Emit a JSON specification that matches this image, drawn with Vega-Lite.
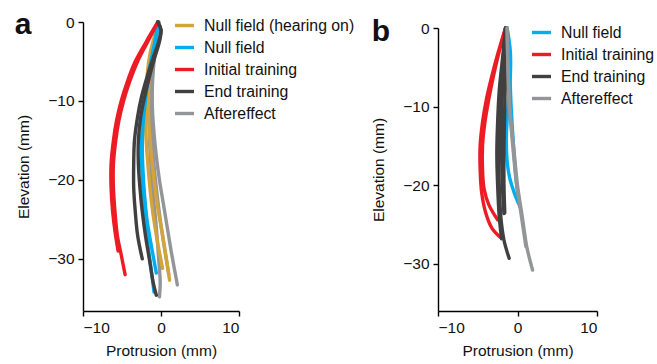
{
  "$schema": "https://vega.github.io/schema/vega-lite/v6.json",
  "padding": {"left": 14, "top": 10, "right": 5, "bottom": 2},
  "config": {
    "font": "Liberation Sans",
    "view": {"stroke": null},
    "axis": {"grid": false, "domainColor": "#000", "tickColor": "#000", "labelColor": "#111", "titleColor": "#111", "domainWidth": 1.4, "tickWidth": 1.4, "tickSize": 5, "labelFontSize": 15.5, "titleFontSize": 15.5, "titleFontWeight": "normal", "labelPadding": 4},
    "legend": {"labelFontSize": 15.8, "labelColor": "#111", "symbolType": "stroke", "symbolStrokeWidth": 3.5, "symbolSize": 361, "labelOffset": 8, "rowPadding": 2, "padding": 0, "title": null},
    "title": {"fontSize": 30, "fontWeight": "bold", "color": "#111", "anchor": "start", "frame": "bounds"},
    "line": {"strokeWidth": 3.4, "strokeCap": "round", "strokeJoin": "round", "interpolate": "catmull-rom"}
  },
  "datasets": {
    "a": [
      {"c": "Aftereffect", "t": 1, "i": 0, "x": -0.3, "y": 0}, {"c": "Aftereffect", "t": 1, "i": 1, "x": -0.6, "y": -2}, {"c": "Aftereffect", "t": 1, "i": 2, "x": -0.9, "y": -5}, {"c": "Aftereffect", "t": 1, "i": 3, "x": -1.1, "y": -8}, {"c": "Aftereffect", "t": 1, "i": 4, "x": -1.1, "y": -11}, {"c": "Aftereffect", "t": 1, "i": 5, "x": -0.9, "y": -14}, {"c": "Aftereffect", "t": 1, "i": 6, "x": -0.6, "y": -17}, {"c": "Aftereffect", "t": 1, "i": 7, "x": -0.2, "y": -20}, {"c": "Aftereffect", "t": 1, "i": 8, "x": 0.3, "y": -23}, {"c": "Aftereffect", "t": 1, "i": 9, "x": 0.8, "y": -26}, {"c": "Aftereffect", "t": 1, "i": 10, "x": 1.3, "y": -29}, {"c": "Aftereffect", "t": 1, "i": 11, "x": 2.1, "y": -33.3},
      {"c": "Aftereffect", "t": 2, "i": 0, "x": -0.3, "y": 0}, {"c": "Aftereffect", "t": 2, "i": 1, "x": -0.7, "y": -3}, {"c": "Aftereffect", "t": 2, "i": 2, "x": -1.2, "y": -6}, {"c": "Aftereffect", "t": 2, "i": 3, "x": -1.4, "y": -10}, {"c": "Aftereffect", "t": 2, "i": 4, "x": -1.5, "y": -14}, {"c": "Aftereffect", "t": 2, "i": 5, "x": -1.3, "y": -18}, {"c": "Aftereffect", "t": 2, "i": 6, "x": -1.0, "y": -22}, {"c": "Aftereffect", "t": 2, "i": 7, "x": -0.6, "y": -26}, {"c": "Aftereffect", "t": 2, "i": 8, "x": -0.3, "y": -30}, {"c": "Aftereffect", "t": 2, "i": 9, "x": -0.1, "y": -33}, {"c": "Aftereffect", "t": 2, "i": 10, "x": -0.2, "y": -34.8},
      {"c": "Aftereffect", "t": 3, "i": 0, "x": -0.3, "y": 0}, {"c": "Aftereffect", "t": 3, "i": 1, "x": -0.6, "y": -2.5}, {"c": "Aftereffect", "t": 3, "i": 2, "x": -1.0, "y": -5.5}, {"c": "Aftereffect", "t": 3, "i": 3, "x": -1.2, "y": -9}, {"c": "Aftereffect", "t": 3, "i": 4, "x": -1.2, "y": -13}, {"c": "Aftereffect", "t": 3, "i": 5, "x": -1.0, "y": -17}, {"c": "Aftereffect", "t": 3, "i": 6, "x": -0.6, "y": -21}, {"c": "Aftereffect", "t": 3, "i": 7, "x": -0.1, "y": -25}, {"c": "Aftereffect", "t": 3, "i": 8, "x": 0.5, "y": -29}, {"c": "Aftereffect", "t": 3, "i": 9, "x": 1.0, "y": -32},
      {"c": "Null field (hearing on)", "t": 1, "i": 0, "x": -0.4, "y": 0}, {"c": "Null field (hearing on)", "t": 1, "i": 1, "x": -0.9, "y": -2}, {"c": "Null field (hearing on)", "t": 1, "i": 2, "x": -1.4, "y": -4}, {"c": "Null field (hearing on)", "t": 1, "i": 3, "x": -1.7, "y": -6}, {"c": "Null field (hearing on)", "t": 1, "i": 4, "x": -1.9, "y": -9}, {"c": "Null field (hearing on)", "t": 1, "i": 5, "x": -2.0, "y": -12}, {"c": "Null field (hearing on)", "t": 1, "i": 6, "x": -1.9, "y": -15}, {"c": "Null field (hearing on)", "t": 1, "i": 7, "x": -1.6, "y": -19}, {"c": "Null field (hearing on)", "t": 1, "i": 8, "x": -1.2, "y": -23}, {"c": "Null field (hearing on)", "t": 1, "i": 9, "x": -0.6, "y": -27}, {"c": "Null field (hearing on)", "t": 1, "i": 10, "x": 0.2, "y": -31.2},
      {"c": "Null field (hearing on)", "t": 2, "i": 0, "x": -0.3, "y": 0}, {"c": "Null field (hearing on)", "t": 2, "i": 1, "x": -0.8, "y": -2}, {"c": "Null field (hearing on)", "t": 2, "i": 2, "x": -1.2, "y": -4}, {"c": "Null field (hearing on)", "t": 2, "i": 3, "x": -1.5, "y": -6}, {"c": "Null field (hearing on)", "t": 2, "i": 4, "x": -1.6, "y": -9}, {"c": "Null field (hearing on)", "t": 2, "i": 5, "x": -1.6, "y": -12}, {"c": "Null field (hearing on)", "t": 2, "i": 6, "x": -1.4, "y": -15}, {"c": "Null field (hearing on)", "t": 2, "i": 7, "x": -1.0, "y": -19}, {"c": "Null field (hearing on)", "t": 2, "i": 8, "x": -0.5, "y": -23}, {"c": "Null field (hearing on)", "t": 2, "i": 9, "x": 0.2, "y": -27}, {"c": "Null field (hearing on)", "t": 2, "i": 10, "x": 0.7, "y": -30}, {"c": "Null field (hearing on)", "t": 2, "i": 11, "x": 1.1, "y": -32.7},
      {"c": "Null field", "t": 1, "i": 0, "x": -0.4, "y": 0}, {"c": "Null field", "t": 1, "i": 1, "x": -0.6, "y": -2}, {"c": "Null field", "t": 1, "i": 2, "x": -1.1, "y": -4.5}, {"c": "Null field", "t": 1, "i": 3, "x": -1.6, "y": -7}, {"c": "Null field", "t": 1, "i": 4, "x": -2.0, "y": -10}, {"c": "Null field", "t": 1, "i": 5, "x": -2.3, "y": -13}, {"c": "Null field", "t": 1, "i": 6, "x": -2.4, "y": -16}, {"c": "Null field", "t": 1, "i": 7, "x": -2.3, "y": -19}, {"c": "Null field", "t": 1, "i": 8, "x": -2.1, "y": -22}, {"c": "Null field", "t": 1, "i": 9, "x": -1.8, "y": -25}, {"c": "Null field", "t": 1, "i": 10, "x": -1.3, "y": -28}, {"c": "Null field", "t": 1, "i": 11, "x": -0.6, "y": -31.8},
      {"c": "Null field", "t": 2, "i": 0, "x": -0.4, "y": 0}, {"c": "Null field", "t": 2, "i": 1, "x": -0.7, "y": -2}, {"c": "Null field", "t": 2, "i": 2, "x": -1.2, "y": -4.5}, {"c": "Null field", "t": 2, "i": 3, "x": -1.7, "y": -7}, {"c": "Null field", "t": 2, "i": 4, "x": -2.1, "y": -10}, {"c": "Null field", "t": 2, "i": 5, "x": -2.4, "y": -13}, {"c": "Null field", "t": 2, "i": 6, "x": -2.5, "y": -16}, {"c": "Null field", "t": 2, "i": 7, "x": -2.4, "y": -20}, {"c": "Null field", "t": 2, "i": 8, "x": -2.1, "y": -24}, {"c": "Null field", "t": 2, "i": 9, "x": -1.7, "y": -28}, {"c": "Null field", "t": 2, "i": 10, "x": -1.3, "y": -31}, {"c": "Null field", "t": 2, "i": 11, "x": -0.9, "y": -34.2},
      {"c": "Initial training", "t": 1, "i": 0, "x": -0.4, "y": 0}, {"c": "Initial training", "t": 1, "i": 1, "x": -1.7, "y": -2.5}, {"c": "Initial training", "t": 1, "i": 2, "x": -3.0, "y": -5}, {"c": "Initial training", "t": 1, "i": 3, "x": -4.0, "y": -7.5}, {"c": "Initial training", "t": 1, "i": 4, "x": -4.8, "y": -10}, {"c": "Initial training", "t": 1, "i": 5, "x": -5.4, "y": -12.5}, {"c": "Initial training", "t": 1, "i": 6, "x": -5.8, "y": -15}, {"c": "Initial training", "t": 1, "i": 7, "x": -6.1, "y": -18}, {"c": "Initial training", "t": 1, "i": 8, "x": -6.1, "y": -21}, {"c": "Initial training", "t": 1, "i": 9, "x": -5.9, "y": -24}, {"c": "Initial training", "t": 1, "i": 10, "x": -5.6, "y": -27}, {"c": "Initial training", "t": 1, "i": 11, "x": -5.1, "y": -29.5}, {"c": "Initial training", "t": 1, "i": 12, "x": -4.6, "y": -32},
      {"c": "Initial training", "t": 2, "i": 0, "x": -0.4, "y": 0}, {"c": "Initial training", "t": 2, "i": 1, "x": -1.9, "y": -2.5}, {"c": "Initial training", "t": 2, "i": 2, "x": -3.3, "y": -5}, {"c": "Initial training", "t": 2, "i": 3, "x": -4.3, "y": -7.5}, {"c": "Initial training", "t": 2, "i": 4, "x": -5.1, "y": -10}, {"c": "Initial training", "t": 2, "i": 5, "x": -5.7, "y": -12.5}, {"c": "Initial training", "t": 2, "i": 6, "x": -6.1, "y": -15}, {"c": "Initial training", "t": 2, "i": 7, "x": -6.4, "y": -18}, {"c": "Initial training", "t": 2, "i": 8, "x": -6.4, "y": -21}, {"c": "Initial training", "t": 2, "i": 9, "x": -6.2, "y": -24}, {"c": "Initial training", "t": 2, "i": 10, "x": -5.9, "y": -26.5}, {"c": "Initial training", "t": 2, "i": 11, "x": -5.5, "y": -29},
      {"c": "End training", "t": 1, "i": 0, "x": -0.4, "y": 0}, {"c": "End training", "t": 1, "i": 1, "x": 0.0, "y": -1}, {"c": "End training", "t": 1, "i": 2, "x": -0.3, "y": -2.5}, {"c": "End training", "t": 1, "i": 3, "x": -1.0, "y": -4.5}, {"c": "End training", "t": 1, "i": 4, "x": -1.8, "y": -7}, {"c": "End training", "t": 1, "i": 5, "x": -2.5, "y": -9.5}, {"c": "End training", "t": 1, "i": 6, "x": -3.0, "y": -12}, {"c": "End training", "t": 1, "i": 7, "x": -3.4, "y": -15}, {"c": "End training", "t": 1, "i": 8, "x": -3.5, "y": -18}, {"c": "End training", "t": 1, "i": 9, "x": -3.5, "y": -21}, {"c": "End training", "t": 1, "i": 10, "x": -3.3, "y": -24}, {"c": "End training", "t": 1, "i": 11, "x": -3.0, "y": -27}, {"c": "End training", "t": 1, "i": 12, "x": -2.4, "y": -30},
      {"c": "End training", "t": 2, "i": 0, "x": -0.4, "y": 0}, {"c": "End training", "t": 2, "i": 1, "x": 0.0, "y": -1}, {"c": "End training", "t": 2, "i": 2, "x": -0.2, "y": -2.5}, {"c": "End training", "t": 2, "i": 3, "x": -0.8, "y": -4.5}, {"c": "End training", "t": 2, "i": 4, "x": -1.5, "y": -7}, {"c": "End training", "t": 2, "i": 5, "x": -2.1, "y": -9.5}, {"c": "End training", "t": 2, "i": 6, "x": -2.6, "y": -12}, {"c": "End training", "t": 2, "i": 7, "x": -2.9, "y": -15}, {"c": "End training", "t": 2, "i": 8, "x": -2.9, "y": -18}, {"c": "End training", "t": 2, "i": 9, "x": -2.7, "y": -21}, {"c": "End training", "t": 2, "i": 10, "x": -2.4, "y": -24}, {"c": "End training", "t": 2, "i": 11, "x": -2.0, "y": -27}, {"c": "End training", "t": 2, "i": 12, "x": -1.5, "y": -30}, {"c": "End training", "t": 2, "i": 13, "x": -1.0, "y": -33}, {"c": "End training", "t": 2, "i": 14, "x": -0.6, "y": -34.6}
    ],
    "b": [
      {"c": "Null field", "t": 1, "i": 0, "x": -1.3, "y": 0}, {"c": "Null field", "t": 1, "i": 1, "x": -0.9, "y": -3}, {"c": "Null field", "t": 1, "i": 2, "x": -0.9, "y": -6}, {"c": "Null field", "t": 1, "i": 3, "x": -1.2, "y": -10}, {"c": "Null field", "t": 1, "i": 4, "x": -1.4, "y": -14}, {"c": "Null field", "t": 1, "i": 5, "x": -1.3, "y": -17}, {"c": "Null field", "t": 1, "i": 6, "x": -1.0, "y": -19}, {"c": "Null field", "t": 1, "i": 7, "x": -0.4, "y": -21}, {"c": "Null field", "t": 1, "i": 8, "x": 0.3, "y": -22.7},
      {"c": "Null field", "t": 2, "i": 0, "x": -1.3, "y": 0}, {"c": "Null field", "t": 2, "i": 1, "x": -1.0, "y": -5}, {"c": "Null field", "t": 2, "i": 2, "x": -0.8, "y": -10}, {"c": "Null field", "t": 2, "i": 3, "x": -0.5, "y": -15}, {"c": "Null field", "t": 2, "i": 4, "x": -0.1, "y": -20}, {"c": "Null field", "t": 2, "i": 5, "x": 0.2, "y": -22},
      {"c": "Initial training", "t": 1, "i": 0, "x": -1.5, "y": 0}, {"c": "Initial training", "t": 1, "i": 1, "x": -2.3, "y": -3}, {"c": "Initial training", "t": 1, "i": 2, "x": -3.0, "y": -6}, {"c": "Initial training", "t": 1, "i": 3, "x": -3.6, "y": -9}, {"c": "Initial training", "t": 1, "i": 4, "x": -4.1, "y": -12}, {"c": "Initial training", "t": 1, "i": 5, "x": -4.4, "y": -15}, {"c": "Initial training", "t": 1, "i": 6, "x": -4.4, "y": -18}, {"c": "Initial training", "t": 1, "i": 7, "x": -4.2, "y": -20.5}, {"c": "Initial training", "t": 1, "i": 8, "x": -3.6, "y": -22.5}, {"c": "Initial training", "t": 1, "i": 9, "x": -2.5, "y": -24.4},
      {"c": "Initial training", "t": 2, "i": 0, "x": -1.5, "y": 0}, {"c": "Initial training", "t": 2, "i": 1, "x": -2.4, "y": -3}, {"c": "Initial training", "t": 2, "i": 2, "x": -3.2, "y": -6}, {"c": "Initial training", "t": 2, "i": 3, "x": -3.9, "y": -9}, {"c": "Initial training", "t": 2, "i": 4, "x": -4.4, "y": -12}, {"c": "Initial training", "t": 2, "i": 5, "x": -4.7, "y": -15}, {"c": "Initial training", "t": 2, "i": 6, "x": -4.7, "y": -18}, {"c": "Initial training", "t": 2, "i": 7, "x": -4.5, "y": -21}, {"c": "Initial training", "t": 2, "i": 8, "x": -4.0, "y": -23.5}, {"c": "Initial training", "t": 2, "i": 9, "x": -3.2, "y": -25.5}, {"c": "Initial training", "t": 2, "i": 10, "x": -2.2, "y": -26.6},
      {"c": "End training", "t": 1, "i": 0, "x": -1.5, "y": 0}, {"c": "End training", "t": 1, "i": 1, "x": -1.7, "y": -4}, {"c": "End training", "t": 1, "i": 2, "x": -1.9, "y": -8}, {"c": "End training", "t": 1, "i": 3, "x": -2.0, "y": -12}, {"c": "End training", "t": 1, "i": 4, "x": -2.0, "y": -16}, {"c": "End training", "t": 1, "i": 5, "x": -1.9, "y": -20}, {"c": "End training", "t": 1, "i": 6, "x": -1.7, "y": -23.6},
      {"c": "End training", "t": 2, "i": 0, "x": -1.5, "y": 0}, {"c": "End training", "t": 2, "i": 1, "x": -1.9, "y": -4}, {"c": "End training", "t": 2, "i": 2, "x": -2.3, "y": -8}, {"c": "End training", "t": 2, "i": 3, "x": -2.5, "y": -12}, {"c": "End training", "t": 2, "i": 4, "x": -2.6, "y": -16}, {"c": "End training", "t": 2, "i": 5, "x": -2.5, "y": -20}, {"c": "End training", "t": 2, "i": 6, "x": -2.3, "y": -24}, {"c": "End training", "t": 2, "i": 7, "x": -2.0, "y": -26.8},
      {"c": "End training", "t": 3, "i": 0, "x": -1.5, "y": 0}, {"c": "End training", "t": 3, "i": 1, "x": -1.8, "y": -4}, {"c": "End training", "t": 3, "i": 2, "x": -2.1, "y": -8}, {"c": "End training", "t": 3, "i": 3, "x": -2.3, "y": -12}, {"c": "End training", "t": 3, "i": 4, "x": -2.4, "y": -16}, {"c": "End training", "t": 3, "i": 5, "x": -2.3, "y": -20}, {"c": "End training", "t": 3, "i": 6, "x": -2.1, "y": -24}, {"c": "End training", "t": 3, "i": 7, "x": -1.7, "y": -27}, {"c": "End training", "t": 3, "i": 8, "x": -1.05, "y": -29.3},
      {"c": "End training", "t": 4, "i": 0, "x": -1.4, "y": 0}, {"c": "End training", "t": 4, "i": 1, "x": -1.5, "y": -5}, {"c": "End training", "t": 4, "i": 2, "x": -1.6, "y": -10}, {"c": "End training", "t": 4, "i": 3, "x": -1.7, "y": -15}, {"c": "End training", "t": 4, "i": 4, "x": -1.7, "y": -20}, {"c": "End training", "t": 4, "i": 5, "x": -1.6, "y": -23.5},
      {"c": "Aftereffect", "t": 1, "i": 0, "x": -1.3, "y": 0}, {"c": "Aftereffect", "t": 1, "i": 1, "x": -1.2, "y": -5}, {"c": "Aftereffect", "t": 1, "i": 2, "x": -1.0, "y": -10}, {"c": "Aftereffect", "t": 1, "i": 3, "x": -0.5, "y": -15}, {"c": "Aftereffect", "t": 1, "i": 4, "x": 0.0, "y": -20}, {"c": "Aftereffect", "t": 1, "i": 5, "x": 0.6, "y": -24}, {"c": "Aftereffect", "t": 1, "i": 6, "x": 1.2, "y": -28}, {"c": "Aftereffect", "t": 1, "i": 7, "x": 1.9, "y": -30.8},
      {"c": "Aftereffect", "t": 2, "i": 0, "x": -1.3, "y": 0}, {"c": "Aftereffect", "t": 2, "i": 1, "x": -1.2, "y": -5}, {"c": "Aftereffect", "t": 2, "i": 2, "x": -1.0, "y": -10}, {"c": "Aftereffect", "t": 2, "i": 3, "x": -0.6, "y": -15}, {"c": "Aftereffect", "t": 2, "i": 4, "x": -0.1, "y": -20}, {"c": "Aftereffect", "t": 2, "i": 5, "x": 0.5, "y": -24}, {"c": "Aftereffect", "t": 2, "i": 6, "x": 1.05, "y": -27.8}
    ]
  },
  "resolve": {"scale": {"color": "independent"}},
  "bounds": "flush",
  "spacing": 199,
  "hconcat": [
    {
      "title": {"text": "a", "offset": -26, "dx": -2},
      "width": 156,
      "height": 289,
      "data": {"name": "a"},
      "mark": {"type": "line"},
      "encoding": {
        "x": {"field": "x", "type": "quantitative", "scale": {"domain": [-10, 10], "nice": false, "zero": false}, "axis": {"values": [-10, 0, 10], "title": "Protrusion (mm)", "titlePadding": 8}},
        "y": {"field": "y", "type": "quantitative", "scale": {"domain": [-36.6, 0], "nice": false, "zero": false}, "axis": {"values": [0, -10, -20, -30], "title": "Elevation (mm)", "titlePadding": 16}},
        "color": {"field": "c", "type": "nominal", "scale": {"domain": ["Null field (hearing on)", "Null field", "Initial training", "End training", "Aftereffect"], "range": ["#D4A43A", "#00AEEF", "#ED1C24", "#404040", "#939598"]}, "legend": {"orient": "none", "legendX": 90, "legendY": -8}},
        "detail": {"field": "t", "type": "nominal"},
        "order": {"field": "i", "type": "quantitative"}
      }
    },
    {
      "title": {"text": "b", "offset": -26},
      "width": 159,
      "height": 289,
      "data": {"name": "b"},
      "mark": {"type": "line"},
      "encoding": {
        "x": {"field": "x", "type": "quantitative", "scale": {"domain": [-10, 10], "nice": false, "zero": false}, "axis": {"values": [-10, 0, 10], "title": "Protrusion (mm)", "titlePadding": 8}},
        "y": {"field": "y", "type": "quantitative", "scale": {"domain": [-36, 0], "nice": false, "zero": false, "range": [289, 6]}, "axis": {"values": [0, -10, -20, -30], "title": "Elevation (mm)", "titlePadding": 16}},
        "color": {"field": "c", "type": "nominal", "scale": {"domain": ["Null field", "Initial training", "End training", "Aftereffect"], "range": ["#00AEEF", "#ED1C24", "#404040", "#939598"]}, "legend": {"orient": "none", "legendX": 92, "legendY": -1}},
        "detail": {"field": "t", "type": "nominal"},
        "order": {"field": "i", "type": "quantitative"}
      }
    }
  ]
}
